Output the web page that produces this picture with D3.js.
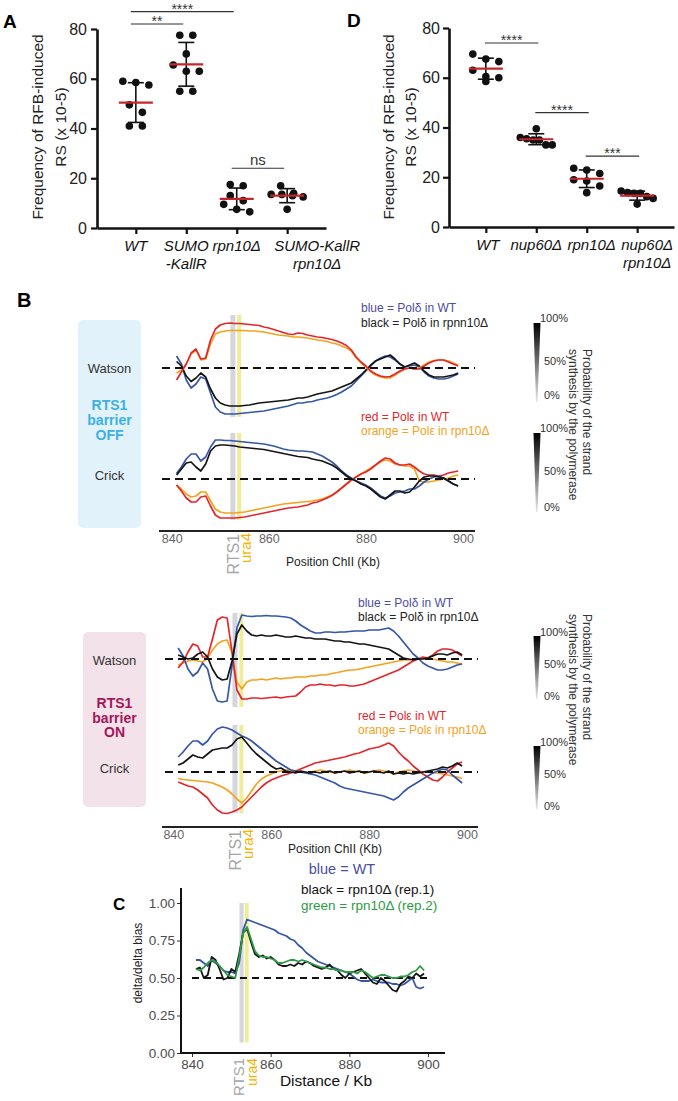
<!DOCTYPE html>
<html><head><meta charset="utf-8">
<script src="https://cdn.jsdelivr.net/npm/d3@7"></script>
<style>
body{margin:0;background:#fff;}
svg{display:block;font-family:"Liberation Sans",Arial,sans-serif;}
</style></head><body>
<svg id="fig" width="678" height="1101"></svg>
<script>
// ================= DATA =================
// Panel A
const catsA = [["WT"],["SUMO","-KallR"],["rpn10Δ"],["SUMO-KallR","rpn10Δ"]];
const valsA_WT = [58.5,57.5,59,49.5,46.5,41,41];
const valsA_SUMO = [77.5,77.5,70,65.5,63,63,55,55];
const valsA_rpn10 = [17,17.5,13,11,9.5,6.5,7.5];
const valsA_SUMOrpn10 = [17,14,13.5,13.5,13,12.5,7.5];
const sigA = [{from:0,to:2,label:"****",level:87},{from:0,to:1,label:"**",level:82},{from:2,to:3,label:"ns",level:24}];
// Panel D
const catsD = [["WT"],["nup60Δ"],["rpn10Δ"],["nup60Δ","rpn10Δ"]];
const valsD_WT = [67.5,69.5,66.5,63,60.5,60,58.5];
const valsD_nup60 = [39.5,36,35.5,35,35,33,33];
const valsD_rpn10 = [23.6,22.9,21.5,19,18.5,16.5,13.8];
const valsD_nup60rpn10 = [14.5,13.8,13.5,13.5,12.2,11.5,9.2];
const sigD = [{from:0,to:1,label:"****",level:74},{from:1,to:2,label:"****",level:46},{from:2,to:3,label:"***",level:28.5}];
const ticksAD = [0,20,40,60,80];

// Panel B (positions in kb, values = strand bias in %, + above / - below baseline)
const posKb = [841,842,843,844,845,846,847,848,849,850,851,852,853,854,855,856,857,858,859,860,
  861,862,863,864,865,866,867,868,869,870,871,872,873,874,875,876,877,878,879,880,
  881,882,883,884,885,886,887,888,889,890,891,892,893,894,895,896,897,898,899];
const ticksKb = [840,860,880,900];
const markers = [{name:"RTS1",kb:852.6},{name:"ura4",kb:853.9}];

const offWatsonRed = [-24,-8,8,30,38,18,20,56,78,86, 89,90,89,89,88,87,86,85,82,80, 77,74,71,68,67,70,69,66,64,62, 61,59,57,54,50,45,36,22,12,4, -6,-12,-16,-18,-17,-12,-6,-2,0,-2, -2,4,10,14,16,16,12,8,4];
const offWatsonOrange = [-10,-4,8,28,36,16,18,48,68,72, 74,75,75,75,75,74,74,73,72,70, 68,66,65,64,62,62,61,60,58,56, 55,53,50,48,44,40,34,20,10,2, -8,-14,-18,-20,-20,-14,-8,-2,0,-2, 0,6,12,15,16,16,14,10,6];
const offWatsonBlue = [24,8,-24,-40,-32,-18,-22,-50,-78,-88, -92,-92,-92,-91,-90,-89,-88,-87,-86,-84, -82,-80,-78,-76,-73,-70,-70,-68,-67,-64, -62,-60,-57,-53,-48,-42,-36,-26,-16,-6, 4,14,20,24,22,16,8,2,4,6, 2,-8,-16,-20,-22,-22,-20,-16,-12];
const offWatsonBlack = [13,4,-16,-27,-20,-10,-18,-42,-60,-70, -74,-76,-76,-76,-75,-74,-72,-70,-69,-68, -67,-66,-65,-64,-62,-60,-60,-58,-55,-52, -50,-48,-46,-42,-38,-34,-30,-22,-14,-4, 6,14,18,22,26,18,8,2,6,10, 4,-6,-14,-18,-18,-18,-16,-14,-10];
const offCrickBlue = [11,24,40,50,50,36,44,64,78,78, 77,77,76,75,74,73,72,71,70,68, 66,63,60,58,57,56,56,55,54,50, 46,40,34,26,16,8,2,-4,-8,-12, -18,-26,-34,-38,-34,-28,-26,-24,-20,-20, -14,-6,0,4,6,2,-4,-10,-14];
const offCrickBlack = [8,20,32,34,24,16,30,56,66,68, 68,67,66,64,63,62,61,60,59,57, 55,53,51,49,47,45,44,43,40,38, 36,32,28,22,14,6,0,-4,-10,-14, -20,-28,-36,-40,-32,-24,-24,-28,-26,-16, -4,4,6,6,4,2,-4,-10,-14];
const offCrickRed = [-12,-24,-38,-46,-46,-36,-34,-54,-72,-78, -78,-78,-78,-77,-76,-74,-72,-70,-68,-66, -64,-62,-60,-58,-57,-56,-54,-52,-48,-46, -42,-38,-33,-26,-18,-10,-2,4,10,14, 20,28,36,42,40,32,28,28,30,24, 16,10,8,8,6,8,12,14,16];
const offCrickOrange = [-12,-20,-30,-36,-34,-26,-26,-44,-60,-66, -68,-68,-68,-67,-66,-64,-62,-60,-58,-56, -54,-52,-50,-49,-48,-47,-46,-45,-44,-42, -40,-36,-32,-26,-18,-10,-2,4,10,16, 22,28,34,38,36,30,28,26,26,20, -4,-6,-6,-4,-2,0,2,6,8];

const onWatsonRed = [-18,-6,14,30,26,4,4,40,78,84, 82,14,-62,-80,-80,-78,-78,-79,-78,-77, -76,-78,-76,-75,-74,-66,-56,-52,-52,-50, -52,-52,-54,-52,-52,-54,-54,-52,-50,-46, -42,-38,-34,-30,-26,-22,-16,-10,-4,0, 4,2,8,16,20,20,18,12,6];
const onWatsonOrange = [-12,-8,-4,-2,-4,-6,2,18,30,36, 38,12,-46,-60,-46,-42,-42,-40,-42,-40, -38,-40,-38,-38,-36,-36,-36,-34,-34,-32, -32,-30,-28,-26,-24,-22,-22,-20,-18,-16, -14,-12,-10,-8,-6,-4,-2,-2,0,0, 0,0,0,-2,-4,-6,-6,-8,-10];
const onWatsonBlue = [22,6,-20,-34,-26,-8,-20,-60,-84,-86, -84,-14,62,88,86,85,86,86,87,86, 86,85,84,82,76,68,62,56,52,52, 54,54,53,54,54,55,56,56,56,58, 58,58,60,62,56,46,34,22,10,2, -8,-14,-18,-22,-22,-20,-16,-12,-10];
const onWatsonBlack = [8,4,0,2,10,14,4,-20,-36,-42, -40,-4,50,68,56,48,46,48,46,46, 48,46,44,44,46,44,42,42,40,40, 40,38,36,36,34,34,32,30,30,28, 26,24,22,20,14,8,2,0,-2,0, 0,2,6,10,10,8,12,14,8];
const onCrickBlue = [30,40,52,62,62,54,62,76,86,90, 88,84,78,72,68,62,54,46,38,30, 22,16,10,4,2,0,-2,-4,-6,-10, -14,-18,-22,-28,-32,-34,-36,-38,-40,-42, -44,-46,-48,-52,-56,-50,-40,-32,-26,-20, -14,-8,-2,2,6,4,-6,-14,-22];
const onCrickBlack = [14,18,26,34,30,28,36,44,46,48, 48,54,66,70,58,46,36,28,20,12, 6,8,2,0,-2,2,0,-2,0,-2, 0,2,-2,0,2,-2,0,2,-2,0, 2,0,-2,2,-4,-2,-4,-2,-4,-2, 0,2,4,6,10,8,12,18,12];
const onCrickRed = [-20,-24,-28,-30,-36,-44,-52,-66,-76,-82, -83,-80,-76,-70,-60,-50,-40,-30,-22,-16, -12,-8,-5,-2,2,6,10,14,18,20, 22,24,26,28,30,33,36,38,42,46, 48,50,54,58,52,40,30,22,12,4, -4,-10,-16,-18,-10,0,8,16,20];
const onCrickOrange = [-13,-15,-16,-17,-18,-19,-20,-22,-26,-30, -36,-44,-54,-62,-52,-38,-24,-14,-8,-4, 0,2,4,4,2,0,-2,0,2,4, 2,0,-2,0,2,4,2,0,-2,0, 2,4,2,0,-4,0,2,4,2,0, 0,0,-2,-2,-4,-6,-8,-10,-13];

// Panel C (delta/delta bias)
const ticksC = [0,0.25,0.5,0.75,1];
const cBlue = [0.62,0.62,0.60,0.58,0.62,0.60,0.58,0.55,0.54,0.54, 0.53,0.60,0.82,0.89,0.88,0.87,0.86,0.85,0.84,0.83, 0.82,0.80,0.79,0.78,0.76,0.75,0.72,0.70,0.67,0.65, 0.63,0.61,0.60,0.59,0.58,0.57,0.56,0.55,0.54,0.53, 0.51,0.49,0.48,0.48,0.48,0.49,0.48,0.47,0.47,0.47, 0.46,0.46,0.45,0.46,0.48,0.50,0.44,0.43,0.44];
const cBlack = [0.56,0.57,0.50,0.52,0.64,0.62,0.56,0.49,0.50,0.56, 0.54,0.66,0.80,0.83,0.74,0.66,0.64,0.65,0.63,0.64, 0.62,0.59,0.58,0.58,0.59,0.58,0.60,0.59,0.61,0.60, 0.58,0.57,0.56,0.57,0.59,0.56,0.55,0.52,0.50,0.53, 0.54,0.55,0.56,0.53,0.50,0.47,0.46,0.50,0.48,0.45, 0.42,0.41,0.46,0.48,0.51,0.50,0.53,0.51,0.53];
const cGreen = [0.56,0.55,0.57,0.60,0.62,0.61,0.58,0.55,0.52,0.51, 0.50,0.64,0.80,0.84,0.76,0.68,0.65,0.64,0.64,0.63, 0.62,0.60,0.60,0.61,0.62,0.62,0.61,0.62,0.61,0.60, 0.59,0.58,0.57,0.57,0.56,0.56,0.55,0.55,0.54,0.54, 0.54,0.53,0.55,0.54,0.52,0.50,0.51,0.52,0.52,0.51, 0.50,0.50,0.51,0.51,0.52,0.54,0.55,0.58,0.55];

// ================= DRAWING =================
const svg = d3.select("#fig");
const COL = {blue:"#3656a6", black:"#141414", red:"#e3262c", orange:"#f5a21c", green:"#2e9a43", legBlue:"#4b4ea0"};

function swarm(vals, y){
  const sorted = vals.map(v=>({v})).sort((a,b)=>b.v-a.v);
  const groups=[];
  sorted.forEach(p=>{const last=groups[groups.length-1];
    if(last && Math.abs(y(last[0].v)-y(p.v))<8) last.push(p); else groups.push([p]);});
  const out=[];
  groups.forEach(gr=>{const n=gr.length; const step=n>1?Math.min(13,32/(n-1)):0;
    gr.forEach((p,k)=>out.push({v:p.v,dx:(k-(n-1)/2)*step}));});
  return out;
}

function dotPanel(o){
  const g = svg.append("g");
  const x = d3.scalePoint().domain(d3.range(o.cats.length)).range(o.xr).padding(o.pad);
  const y = d3.scaleLinear().domain([0,80]).range(o.yr);
  const ya = g.append("g").attr("transform",`translate(${o.xr[0]},0)`)
    .call(d3.axisLeft(y).tickValues(ticksAD).tickSize(6).tickSizeOuter(0).tickPadding(o.tp));
  ya.select(".domain").attr("stroke","#111").attr("stroke-width",2.6);
  ya.selectAll(".tick line").attr("stroke","#111").attr("stroke-width",2.2);
  ya.selectAll("text").attr("font-size",16).attr("fill","#222").attr("font-family","Liberation Sans");
  const xa = g.append("g").attr("transform",`translate(0,${o.yr[0]})`)
    .call(d3.axisBottom(x).tickSize(6).tickSizeOuter(0).tickFormat(""));
  xa.select(".domain").attr("stroke","#111").attr("stroke-width",2.6);
  xa.selectAll(".tick line").attr("stroke","#111").attr("stroke-width",2.2);
  o.cats.forEach((lines,i)=>lines.forEach((t,j)=>g.append("text").attr("x",x(i)+o.labDx[i]).attr("y",o.yr[0]+23+j*18)
    .attr("text-anchor","middle").attr("font-style","italic").attr("font-size",15).attr("fill","#111").text(t)));
  o.ylab.forEach((t,j)=>g.append("text").attr("transform",`translate(${o.ylx[j]},127) rotate(-90)`)
    .attr("text-anchor","middle").attr("font-size",15.5).attr("fill","#222").text(t));
  g.append("text").attr("x",o.letter[1]).attr("y",o.letter[2]).attr("font-weight","bold").attr("font-size",19).text(o.letter[0]);
  o.vals.forEach((vals,i)=>{
    const cx = x(i), m = d3.mean(vals), sd = d3.deviation(vals);
    swarm(vals,y).forEach(p=>g.append("circle").attr("cx",cx+p.dx).attr("cy",y(p.v)).attr("r",3.8).attr("fill","#111"));
    g.append("line").attr("x1",cx).attr("x2",cx).attr("y1",y(m+sd)).attr("y2",y(m-sd)).attr("stroke","#111").attr("stroke-width",1.6);
    [m+sd,m-sd].forEach(v=>g.append("line").attr("x1",cx-8).attr("x2",cx+8).attr("y1",y(v)).attr("y2",y(v)).attr("stroke","#111").attr("stroke-width",1.6));
    g.append("line").attr("x1",cx-17).attr("x2",cx+17).attr("y1",y(m)).attr("y2",y(m)).attr("stroke","#c4262c").attr("stroke-width",2.2);
  });
  o.sig.forEach(s=>{
    const x1 = x(s.from)+o.sigOff[0], x2 = x(s.to)+o.sigOff[1], yy = y(s.level);
    g.append("line").attr("x1",x1).attr("x2",x2).attr("y1",yy).attr("y2",yy).attr("stroke","#333").attr("stroke-width",1.1);
    const isNs = s.label==="ns";
    g.append("text").attr("x",(x1+x2)/2).attr("y",isNs?yy-3:yy+2).attr("text-anchor","middle")
      .attr("font-size",isNs?15:14).attr("fill","#333").text(s.label);
  });
}

dotPanel({cats:catsA, vals:[valsA_WT,valsA_SUMO,valsA_rpn10,valsA_SUMOrpn10], xr:[97,326], pad:0.77, yr:[228,29], tp:4,
  labDx:[0,0,0,30],
  ylab:["Frequency of RFB-induced","RS (x 10-5)"], ylx:[43,66], letter:["A",3,28], sig:sigA, sigOff:[-5,-3]});
dotPanel({cats:catsD, vals:[valsD_WT,valsD_nup60,valsD_rpn10,valsD_nup60rpn10], xr:[449,674], pad:0.73, yr:[227,28], tp:3,
  labDx:[2,0,5,10],
  ylab:["Frequency of RFB-induced","RS (x 10-5)"], ylx:[394,416], letter:["D",347,27], sig:sigD, sigOff:[-1,2]});

// ---------- Panel B ----------
svg.append("text").attr("x",17).attr("y",307).attr("font-weight","bold").attr("font-size",20).text("B");

function wedge(g, xc, top, bot, labY, id){
  const grad = svg.append("defs").append("linearGradient").attr("id",id).attr("x1",0).attr("x2",0).attr("y1",0).attr("y2",1);
  grad.append("stop").attr("offset","0%").attr("stop-color","#000");
  grad.append("stop").attr("offset","100%").attr("stop-color","#e6e6e6");
  g.append("path").attr("d",`M${xc-3.5},${top}L${xc+3.5},${top}L${xc+0.5},${bot}L${xc-1},${bot}Z`).attr("fill",`url(#${id})`);
  ["100%","50%","0%"].forEach((t,i)=>g.append("text").attr("x",xc+3+(i?4:0)).attr("y",labY[i]).attr("font-size",11).attr("fill","#333").text(t));
}

function strandPanel(o){
  const g = svg.append("g");
  const x = d3.scaleLinear().domain([840,900]).range([o.x840,o.x900]);
  g.append("rect").attr("x",o.box[0]).attr("y",o.box[1]).attr("width",o.box[2]).attr("height",o.box[3]).attr("rx",5).attr("fill",o.boxFill);
  const bx = o.box[0]+o.box[2]/2;
  o.boxText.forEach(t=>g.append("text").attr("x",bx).attr("y",t[1]).attr("text-anchor","middle")
    .attr("font-size",t[2]?14:13).attr("font-weight",t[2]?"bold":"normal").attr("fill",t[2]?o.stateColor:"#333").text(t[0]));
  o.strands.forEach(s=>{
    const y = d3.scaleLinear().domain([-100,100]).range([s.base+50,s.base-50]);
    g.append("rect").attr("x",x(markers[0].kb)-2.5).attr("y",s.band[0]).attr("width",5).attr("height",s.band[1]-s.band[0]).attr("fill","#d5d5dc");
    g.append("rect").attr("x",x(markers[1].kb)-2).attr("y",s.band[0]).attr("width",4).attr("height",s.band[1]-s.band[0]).attr("fill","#efec9c");
    const line = d3.line().x((d,i)=>x(posKb[i])).y(d=>y(d));
    s.series.forEach(se=>g.append("path").datum(se[0]).attr("d",line).attr("fill","none").attr("stroke",se[1])
      .attr("stroke-width",1.7).attr("stroke-linejoin","round"));
    g.append("line").attr("x1",o.axisX[0]+3).attr("x2",o.axisX[1]).attr("y1",s.base).attr("y2",s.base)
      .attr("stroke","#111").attr("stroke-width",1.8).attr("stroke-dasharray","8,5");
  });
  g.append("line").attr("x1",o.axisX[0]).attr("x2",o.axisX[1]).attr("y1",o.axisY).attr("y2",o.axisY).attr("stroke","#222").attr("stroke-width",2.2);
  const ax = g.append("g").attr("transform",`translate(0,${o.axisY})`).call(d3.axisBottom(x).tickValues(ticksKb).tickSize(0).tickPadding(3.5));
  ax.select(".domain").remove();
  ax.selectAll("text").attr("font-size",12.5).attr("fill","#666").attr("font-family","Liberation Sans");
  g.append("text").attr("x",o.xlabX).attr("y",o.xlabY).attr("text-anchor","middle").attr("font-size",12).attr("fill","#222").text("Position ChII (Kb)");
  g.append("text").attr("transform",`translate(${x(markers[0].kb)+6},${o.axisY+3}) rotate(-90)`).attr("text-anchor","end")
    .attr("font-size",16).attr("fill","#a6a6a6").text(markers[0].name);
  g.append("text").attr("transform",`translate(${x(markers[1].kb)+12},${o.axisY+2}) rotate(-90)`).attr("text-anchor","end")
    .attr("font-size",15).attr("fill","#f3b300").text(markers[1].name);
  o.legend.forEach(l=>g.append("text").attr("x",o.legX).attr("y",l[1]).attr("font-size",12).attr("fill",l[2]).text(l[0]));
  wedge(g, 537, o.w1[0], o.w1[1], o.w1l, o.id+"w1");
  wedge(g, 537, o.w2[0], o.w2[1], o.w2l, o.id+"w2");
  ["Probability of the strand","synthesis by the polymerase"].forEach((t,j)=>g.append("text")
    .attr("transform",`translate(${j?569:583},${o.vtY}) rotate(90)`).attr("font-size",12).attr("fill","#333").text(t));
}

strandPanel({id:"off", x840:171.7, x900:463, axisY:531, axisX:[159,475], xlabX:333, xlabY:566,
  box:[78,320,63,208], boxFill:"#e2f2fb", stateColor:"#3db0e3",
  boxText:[["Watson",373,0],["RTS1",410,1],["barrier",425,1],["OFF",440,1],["Crick",480,0]],
  strands:[
    {base:368, band:[315,417], series:[[offWatsonBlue,COL.blue],[offWatsonBlack,COL.black],[offWatsonOrange,COL.orange],[offWatsonRed,COL.red]]},
    {base:479, band:[433,520], series:[[offCrickOrange,COL.orange],[offCrickRed,COL.red],[offCrickBlue,COL.blue],[offCrickBlack,COL.black]]}],
  legX:361, legend:[["blue = Polδ in WT",312,COL.legBlue],["black = Polδ in rpnn10Δ",327,"#222"],["red = Polε in WT",421,COL.red],["orange = Polε in rpn10Δ",435,COL.orange]],
  w1:[323,402], w1l:[322,365,399], w2:[433,512], w2l:[432,475,511], vtY:349});

strandPanel({id:"on", x840:173.3, x900:467, axisY:827, axisX:[162,478], xlabX:335, xlabY:853,
  box:[83,632,63,175], boxFill:"#f3e2ea", stateColor:"#a3175a",
  boxText:[["Watson",665,0],["RTS1",708,1],["barrier",723,1],["ON",737,1],["Crick",773,0]],
  strands:[
    {base:659, band:[613,707], series:[[onWatsonOrange,COL.orange],[onWatsonRed,COL.red],[onWatsonBlue,COL.blue],[onWatsonBlack,COL.black]]},
    {base:772, band:[725,813], series:[[onCrickOrange,COL.orange],[onCrickRed,COL.red],[onCrickBlue,COL.blue],[onCrickBlack,COL.black]]}],
  legX:358, legend:[["blue = Polδ in WT",607,COL.legBlue],["black = Polδ in rpn10Δ",621,"#222"],["red = Polε in WT",720,COL.red],["orange = Polε in rpn10Δ",734,COL.orange]],
  w1:[636,699], w1l:[636,668,700], w2:[746,809], w2l:[746,778,810], vtY:614});

// ---------- Panel C ----------
(function(){
  const g = svg.append("g");
  const AX = 181;
  const x = d3.scaleLinear().domain([840,900]).range([192,428]);
  const y = d3.scaleLinear().domain([0,1]).range([1053,903]);
  g.append("rect").attr("x",x(markers[0].kb)-2).attr("y",y(1.0)).attr("width",4).attr("height",y(0.07)-y(1.0)).attr("fill","#d5d5dc");
  g.append("rect").attr("x",x(markers[1].kb)-2).attr("y",y(1.0)).attr("width",4).attr("height",y(0.07)-y(1.0)).attr("fill","#efec9c");
  g.append("line").attr("x1",x(840)).attr("x2",x(900)).attr("y1",y(0.5)).attr("y2",y(0.5)).attr("stroke","#111").attr("stroke-width",1.8).attr("stroke-dasharray","7,5");
  const line = d3.line().x((d,i)=>x(posKb[i])).y(d=>y(d));
  [[cBlue,COL.blue],[cBlack,COL.black],[cGreen,COL.green]].forEach(s=>g.append("path").datum(s[0]).attr("d",line)
    .attr("fill","none").attr("stroke",s[1]).attr("stroke-width",1.8).attr("stroke-linejoin","round"));
  const ya = g.append("g").attr("transform",`translate(${AX},0)`).call(d3.axisLeft(y).tickValues(ticksC).tickFormat(d3.format(".2f")).tickSize(4).tickSizeOuter(0).tickPadding(2));
  ya.select(".domain").remove();
  const xa = g.append("g").attr("transform","translate(0,1053)").call(d3.axisBottom(x).tickValues(ticksKb).tickSize(4).tickSizeOuter(0).tickPadding(2));
  xa.select(".domain").remove();
  [ya,xa].forEach(a=>{a.selectAll("text").attr("font-size",13.5).attr("fill","#4d4d4d").attr("font-family","Liberation Sans");
    a.selectAll(".tick line").attr("stroke","#333");});
  g.append("line").attr("x1",AX).attr("x2",AX).attr("y1",888).attr("y2",1054).attr("stroke","#111").attr("stroke-width",2);
  g.append("line").attr("x1",AX-1).attr("x2",445).attr("y1",1053).attr("y2",1053).attr("stroke","#111").attr("stroke-width",2);
  g.append("text").attr("x",113).attr("y",910).attr("font-weight","bold").attr("font-size",17).text("C");
  g.append("text").attr("transform","translate(142,963) rotate(-90)").attr("text-anchor","middle").attr("font-size",12).attr("fill","#222").text("delta/delta bias");
  g.append("text").attr("x",326).attr("y",1086).attr("text-anchor","middle").attr("font-size",15.5).attr("fill","#111").text("Distance / Kb");
  g.append("text").attr("transform",`translate(${x(markers[0].kb)+2.5},1058) rotate(-90)`).attr("text-anchor","end").attr("font-size",15).attr("fill","#a6a6a6").text(markers[0].name);
  g.append("text").attr("transform",`translate(${x(markers[1].kb)+10.5},1058) rotate(-90)`).attr("text-anchor","end").attr("font-size",14).attr("fill","#f3b300").text(markers[1].name);
  g.append("text").attr("x",342).attr("y",874).attr("text-anchor","middle").attr("font-size",14.5).attr("fill",COL.legBlue).text("blue = WT");
  g.append("text").attr("x",301).attr("y",894).attr("font-size",13.5).attr("fill","#111").text("black = rpn10Δ (rep.1)");
  g.append("text").attr("x",301).attr("y",910).attr("font-size",13.5).attr("fill",COL.green).text("green = rpn10Δ (rep.2)");
})();
</script>
</body></html>
